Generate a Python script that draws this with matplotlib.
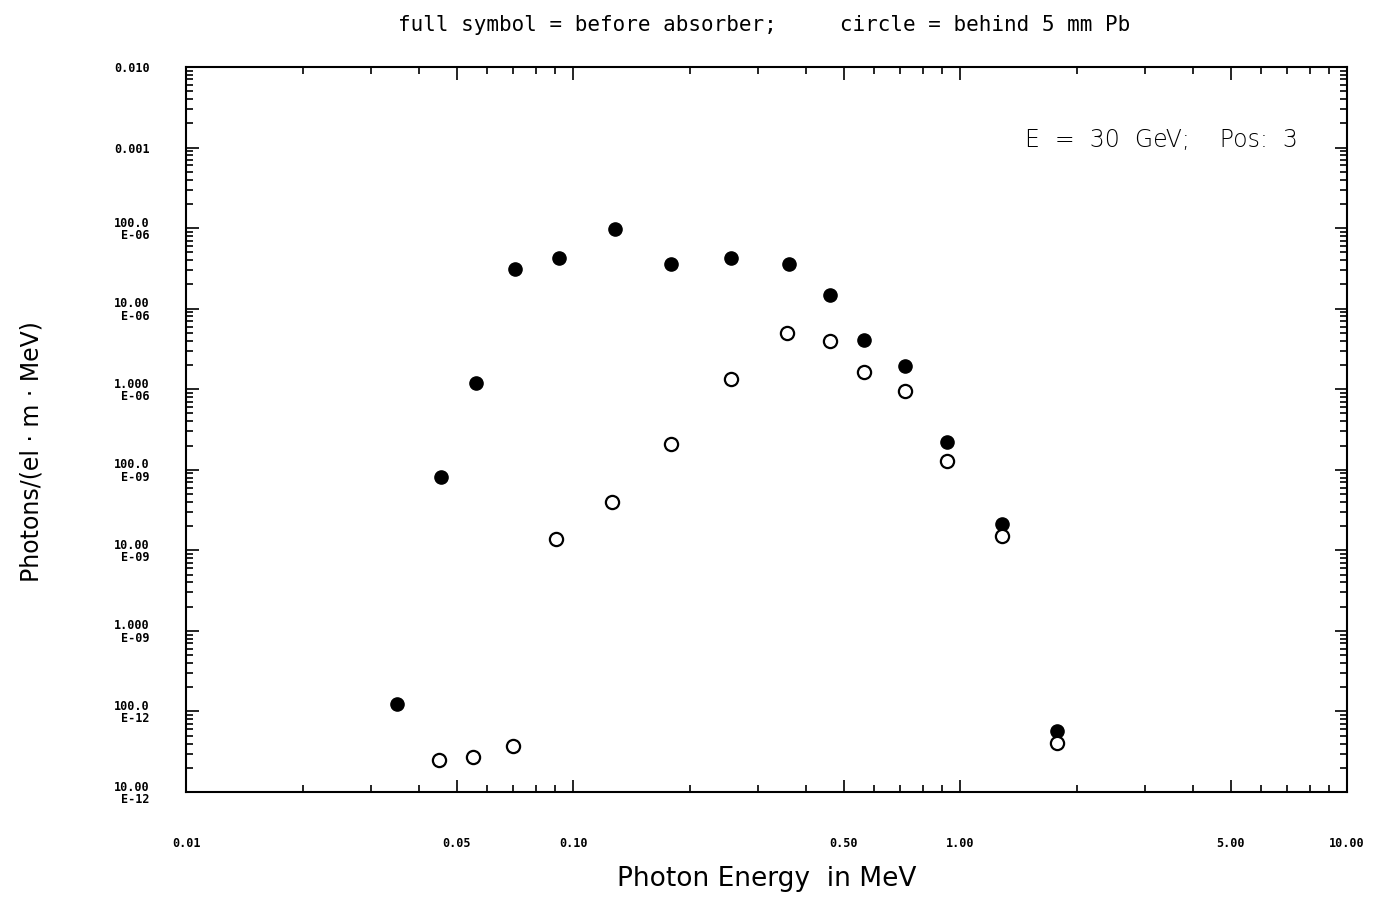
import matplotlib
matplotlib.use("Agg")
import matplotlib.pyplot as plt
import numpy as np
from matplotlib.ticker import FixedLocator, LogLocator, NullFormatter

# ===== DATA =====
# photon energy in MeV, spectrum in photons/(el*m*MeV)
e_full = [0.035, 0.0455, 0.056, 0.071, 0.092, 0.128, 0.179, 0.256, 0.362,
          0.461, 0.565, 0.721, 0.925, 1.28, 1.78]
n_full = [1.25e-10, 8.2e-8, 1.20e-6, 3.1e-5, 4.3e-5, 9.8e-5, 3.6e-5, 4.2e-5,
          3.6e-5, 1.48e-5, 4.1e-6, 1.95e-6, 2.2e-7, 2.1e-8, 5.8e-11]

e_circ = [0.0451, 0.0553, 0.070, 0.0906, 0.126, 0.179, 0.256, 0.358,
          0.461, 0.565, 0.721, 0.925, 1.28, 1.78]
n_circ = [2.5e-11, 2.7e-11, 3.7e-11, 1.38e-8, 4.0e-8, 2.1e-7, 1.35e-6, 5.0e-6,
          4.0e-6, 1.64e-6, 9.6e-7, 1.3e-7, 1.5e-8, 4.1e-11]

x_ticks = [0.01, 0.05, 0.10, 0.50, 1.00, 5.00, 10.00]
x_labels = ["0.01", "0.05", "0.10", "0.50", "1.00", "5.00", "10.00"]
y_ticks = [1e-2, 1e-3, 1e-4, 1e-5, 1e-6, 1e-7, 1e-8, 1e-9, 1e-10, 1e-11]
y_labels = ["0.010", "0.001", "100.0\nE-06", "10.00\nE-06", "1.000\nE-06",
            "100.0\nE-09", "10.00\nE-09", "1.000\nE-09", "100.0\nE-12",
            "10.00\nE-12"]

# ===== PLOT =====
fig = plt.figure(figsize=(13.81, 9.21), dpi=100)
ax = fig.add_axes([0.1347, 0.140, 0.8407, 0.7873])

ax.plot(e_full, n_full, "o", color="black", ms=9.5, mec="black")
ax.plot(e_circ, n_circ, "o", mfc="white", mec="black", ms=9.5, mew=1.6)

ax.set_xscale("log")
ax.set_yscale("log")
ax.set_xlim(0.01, 10.0)
ax.set_ylim(1e-11, 1e-2)

mono = "DejaVu Sans Mono"
ax.xaxis.set_major_locator(FixedLocator(x_ticks))
ax.xaxis.set_minor_locator(LogLocator(base=10, subs=np.arange(2, 10)))
ax.xaxis.set_minor_formatter(NullFormatter())
ax.set_xticklabels(x_labels, fontsize=8.5, fontweight="bold", family=mono)
ax.yaxis.set_major_locator(FixedLocator(y_ticks))
ax.yaxis.set_minor_locator(LogLocator(base=10, subs=np.arange(2, 10), numticks=20))
ax.yaxis.set_minor_formatter(NullFormatter())
ax.set_yticklabels(y_labels, fontsize=8.5, fontweight="bold", family=mono,
                   linespacing=0.95)

ax.tick_params(which="both", direction="in", top=True, right=True, width=1.2)
ax.tick_params(which="major", length=9)
ax.tick_params(which="minor", length=5)
ax.tick_params(axis="x", which="major", pad=32)
ax.tick_params(axis="y", which="major", pad=26)
for lab in ax.get_yticklabels():
    lab.set_horizontalalignment("right")
for s in ax.spines.values():
    s.set_linewidth(1.5)

ax.set_xlabel("Photon Energy  in MeV", fontsize=19, labelpad=12)
ax.set_ylabel("Photons/(el · m · MeV)", fontsize=17)
ax.yaxis.set_label_coords(-0.123, 0.47)

fig.text(0.553, 0.973, "full symbol = before absorber;     circle = behind 5 mm Pb",
         ha="center", va="center", fontsize=15, family=mono)
ax.text(0.958, 0.899, "E  =  30  GeV;    Pos:  3", transform=ax.transAxes,
        ha="right", va="center", fontsize=17, fontweight="light")

fig.savefig("out.png", dpi=100)
